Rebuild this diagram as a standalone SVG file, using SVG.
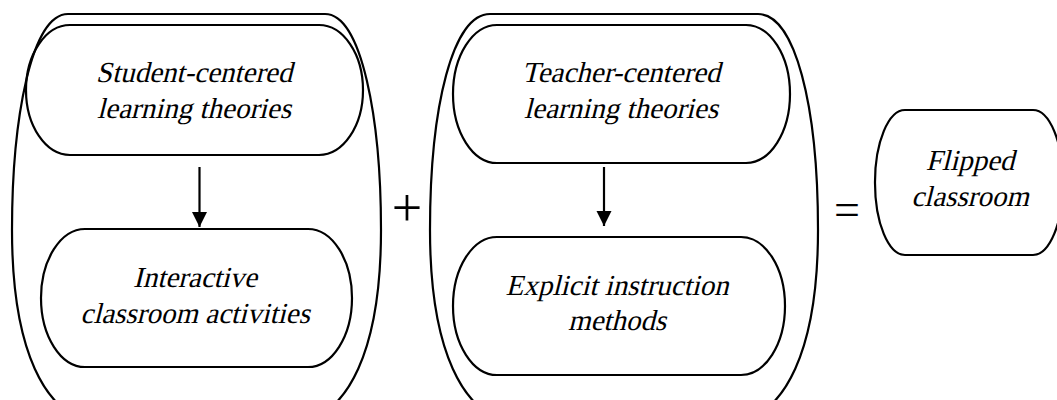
<svg xmlns="http://www.w3.org/2000/svg" width="1057" height="400" viewBox="0 0 1057 400">
<defs>
<style>
.box{fill:none;stroke:#000;stroke-width:2.2}
.t{font-family:"Liberation Serif","Times New Roman",serif;font-size:29px;fill:#000;text-anchor:middle}
.op{font-family:"Liberation Serif","Times New Roman",serif;fill:#000;text-anchor:middle}
.edge{stroke:#000;stroke-width:2.2;fill:none}
</style>
<marker id="ah" markerUnits="userSpaceOnUse" markerWidth="16" markerHeight="16" refX="15" refY="8" orient="auto">
<path d="M0,0.5 L15,8 L0,15.5 Z" fill="#000"/>
</marker>
</defs>
<rect width="1057" height="400" fill="#fff"/>
<g id="group-student">
<path class="box" d="M68,14 H325 C362,14 381,120 381,230 C381,340 353,425 283,425 H110 C40,425 12,340 12,230 C12,120 31,14 68,14 Z"/>
</g>
<g id="group-teacher">
<path class="box" d="M490,14 H758 C795,14 818,105 818,230 C818,340 790,425 720,425 H528 C458,425 430,340 430,230 C430,105 453,14 490,14 Z"/>
</g>
<g id="node-student">
<rect class="box" x="26" y="25" width="337" height="130" rx="44" ry="65"/>
<text class="t" transform="translate(194,82) skewX(-14)">Student-centered</text>
<text class="t" transform="translate(194,118) skewX(-14)">learning theories</text>
</g>
<g id="node-interactive">
<rect class="box" x="41" y="229" width="311" height="138" rx="44" ry="69"/>
<text class="t" transform="translate(195,287) skewX(-14)">Interactive</text>
<text class="t" transform="translate(195,323) skewX(-14)">classroom activities</text>
</g>
<g id="node-teacher">
<rect class="box" x="453" y="25" width="337" height="138" rx="44" ry="69"/>
<text class="t" transform="translate(621,82) skewX(-14)">Teacher-centered</text>
<text class="t" transform="translate(621,118) skewX(-14)">learning theories</text>
</g>
<g id="node-explicit">
<rect class="box" x="453" y="237" width="332" height="138" rx="44" ry="69"/>
<text class="t" transform="translate(617,295) skewX(-14)">Explicit instruction</text>
<text class="t" transform="translate(617,330) skewX(-14)">methods</text>
</g>
<g id="node-flipped">
<rect class="box" x="875" y="110" width="188" height="145" rx="30" ry="72"/>
<text class="t" transform="translate(970,170) skewX(-14)">Flipped</text>
<text class="t" transform="translate(970,206) skewX(-14)">classroom</text>
</g>
<g id="operators">
<text class="op" x="407" y="226" font-size="54">+</text>
<text class="op" x="847" y="225" font-size="46">=</text>
</g>
<g id="connectors">
<line class="edge" x1="199.5" y1="167" x2="199.5" y2="227" marker-end="url(#ah)"/>
<line class="edge" x1="604" y1="167" x2="604" y2="226" marker-end="url(#ah)"/>
</g>
</svg>
